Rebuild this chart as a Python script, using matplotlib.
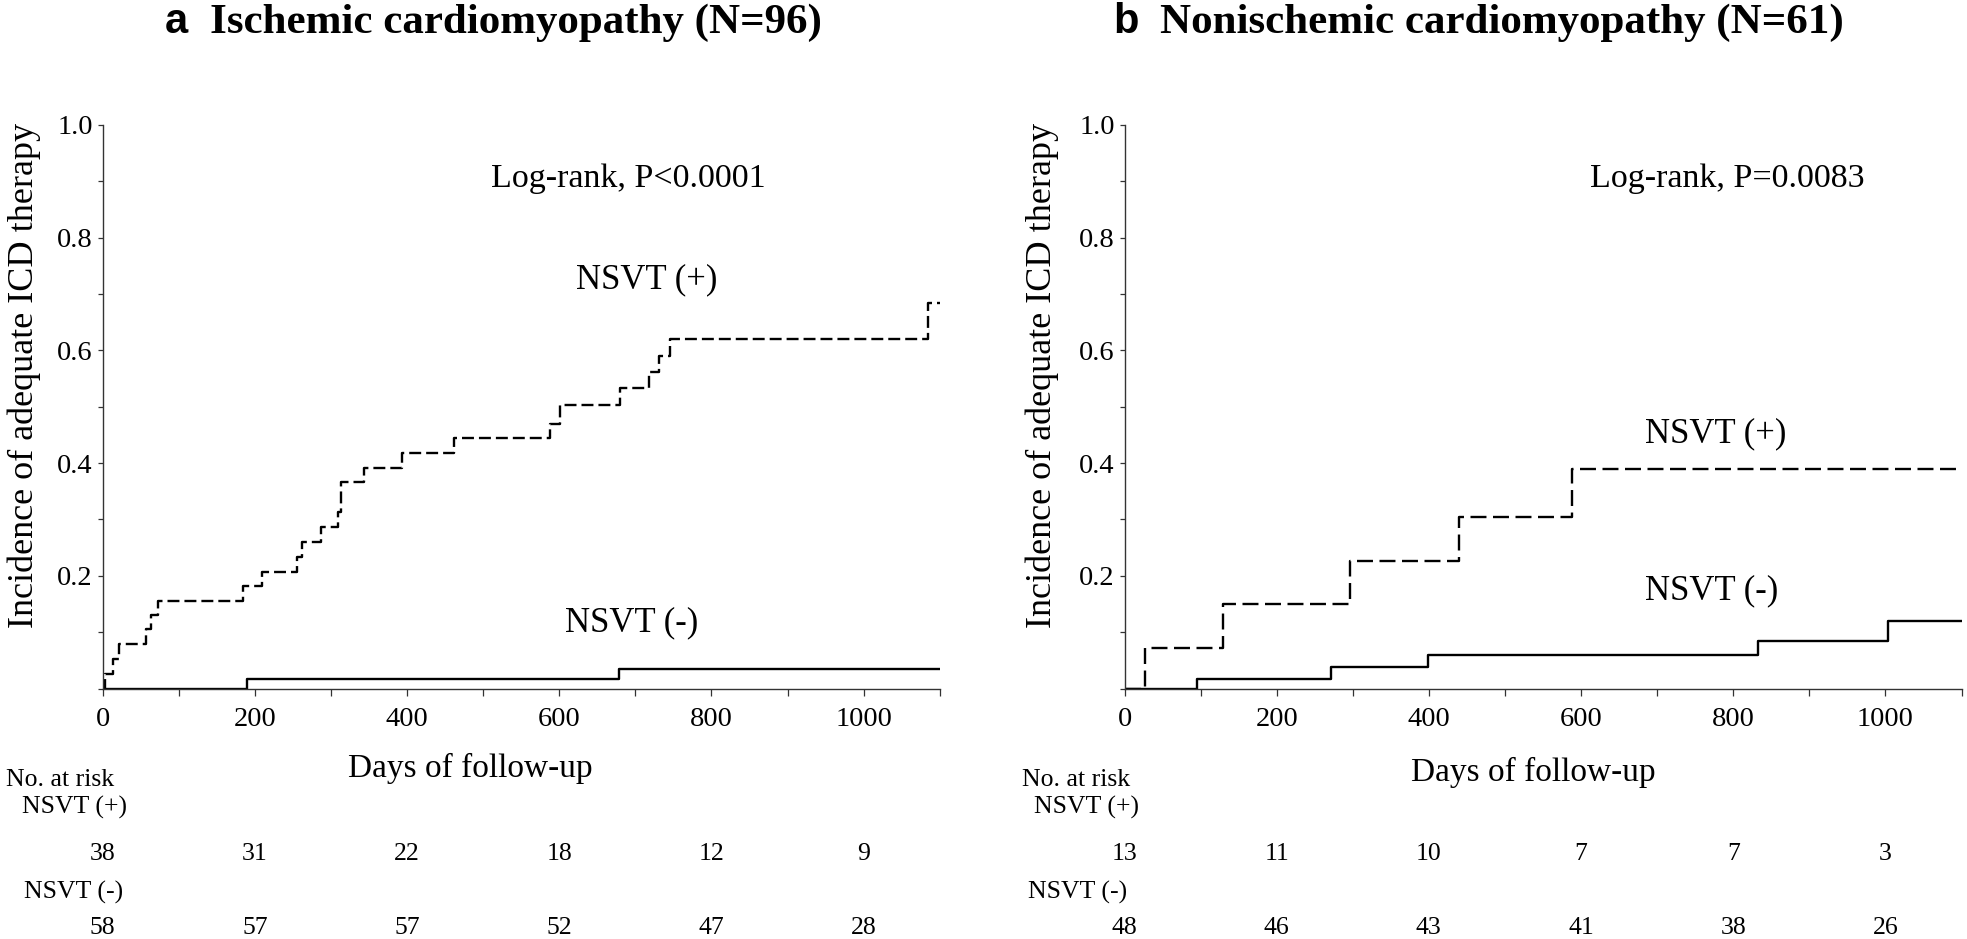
import matplotlib
matplotlib.use('Agg')
from matplotlib import pyplot as plt
from matplotlib import transforms
from matplotlib.ticker import MultipleLocator

# ---- data ----
days_risk = [0, 200, 400, 600, 800, 1000]

# a: ischemic
isch_pos_t = [0, 3, 13, 22, 57, 63, 73, 185, 210, 256, 262, 287, 309, 313, 343,
              394, 462, 588, 601, 680, 718, 731, 746, 1085, 1100]
isch_pos_v = [0, 0.026, 0.053, 0.079, 0.105, 0.13, 0.156, 0.182, 0.207, 0.234,
              0.26, 0.287, 0.314, 0.366, 0.392, 0.418, 0.444, 0.47, 0.503,
              0.533, 0.562, 0.59, 0.62, 0.684, 0.684]
isch_neg_t = [0, 189, 678, 1100]
isch_neg_v = [0, 0.016, 0.035, 0.035]
isch_risk_pos = [38, 31, 22, 18, 12, 9]
isch_risk_neg = [58, 57, 57, 52, 47, 28]

# b: nonischemic
non_pos_t = [0, 27, 129, 297, 439, 588, 1100]
non_pos_v = [0, 0.0725, 0.15, 0.227, 0.304, 0.39, 0.39]
non_neg_t = [0, 95, 271, 399, 833, 1004, 1100]
non_neg_v = [0, 0.016, 0.039, 0.059, 0.084, 0.12, 0.12]
non_risk_pos = [13, 11, 10, 7, 7, 3]
non_risk_neg = [48, 46, 43, 41, 38, 26]

W, H = 1967, 939
SERIF = 'Liberation Serif'
SANS = 'Liberation Sans'
plt.rcParams['font.family'] = [SERIF, 'DejaVu Serif']
plt.rcParams['lines.scale_dashes'] = False

fig = plt.figure(figsize=(W / 100, H / 100), dpi=100)


def px(x, y):
    # pixel position (top-left origin) -> figure fraction
    return x / W, 1 - y / H


def ftext(x, y, s, **kw):
    kw.setdefault('family', SERIF)
    fx, fy = px(x, y)
    fig.text(fx, fy, s, transform=fig.transFigure, **kw)


def panel(left, pos_t, pos_v, neg_t, neg_v, dash):
    axis = fig.add_axes([left / W, 1 - 688.5 / H, 837 / W, 563.5 / H])
    axis.step(pos_t, pos_v, where='post', color='black', lw=1.7,
              linestyle=(0, dash))
    axis.step(neg_t, neg_v, where='post', color='black', lw=1.7)
    axis.set_xlim(0, 1100)
    axis.set_ylim(0, 1.0)
    for side in ['top', 'right']:
        axis.spines[side].set_visible(False)
    for side in ['left', 'bottom']:
        axis.spines[side].set_linewidth(1.0)
        axis.spines[side].set_color('#333333')
    axis.xaxis.set_minor_locator(MultipleLocator(100))
    axis.set_xticks([0, 200, 400, 600, 800, 1000])
    axis.set_yticks([0.2, 0.4, 0.6, 0.8, 1.0])
    axis.set_yticklabels(['0.2', '0.4', '0.6', '0.8', '1.0'])
    axis.yaxis.set_minor_locator(MultipleLocator(0.1))
    axis.tick_params(axis='x', which='both', direction='out', length=5,
                     width=0.9, color='#333333', labelsize=20.5, pad=8)
    axis.tick_params(axis='y', which='both', direction='out', length=3.6,
                     width=0.9, color='#333333', labelsize=20.5, pad=3.5)
    for lab in axis.get_xticklabels() + axis.get_yticklabels():
        lab.set_fontfamily(SERIF)
    axis.patch.set_alpha(0)
    return axis


def risk_table(axis, x_label_left, plus_left, minus_left, plus, minus):
    blend = transforms.blended_transform_factory(axis.transData, fig.transFigure)
    ftext(x_label_left, 786, 'No. at risk', fontsize=18.5, ha='left', va='baseline')
    ftext(plus_left, 814, 'NSVT (+)', fontsize=18.5, ha='left', va='baseline')
    ftext(minus_left, 899, 'NSVT (-)', fontsize=18.5, ha='left', va='baseline')
    for d, p, m in zip(days_risk, plus, minus):
        axis.text(d, 1 - 860 / H, str(p), transform=blend, fontsize=18.5,
                  family=SERIF, ha='center', va='baseline')
        axis.text(d, 1 - 934 / H, str(m), transform=blend, fontsize=18.5,
                  family=SERIF, ha='center', va='baseline')


ax_a = panel(102.7, isch_pos_t, isch_pos_v, isch_neg_t, isch_neg_v, (8.6, 3.6))
ax_b = panel(1124.5, non_pos_t, non_pos_v, non_neg_t, non_neg_v, (11.5, 4.7))

# titles
ftext(165, 33, 'a', family=SANS, fontweight='bold', fontsize=30, ha='left', va='baseline')
ftext(210, 33, 'Ischemic cardiomyopathy (N=96)', fontweight='bold', fontsize=31,
      ha='left', va='baseline')
ftext(1113, 33, 'b', family=SANS, fontweight='bold', fontsize=30, ha='left', va='baseline')
ftext(1160, 33, 'Nonischemic cardiomyopathy (N=61)', fontweight='bold', fontsize=31,
      ha='left', va='baseline')

# y labels
for bx in [33, 1051]:
    ftext(bx, 375, 'Incidence of adequate ICD therapy', fontsize=26, rotation=90,
          rotation_mode='anchor', ha='center', va='baseline')

# x labels
ftext(470, 777, 'Days of follow-up', fontsize=24, ha='center', va='baseline')
ftext(1533, 781, 'Days of follow-up', fontsize=24, ha='center', va='baseline')

# annotations
ftext(628, 187, 'Log-rank, P<0.0001', fontsize=24.5, ha='center', va='baseline')
ftext(1727, 187, 'Log-rank, P=0.0083', fontsize=24.5, ha='center', va='baseline')
ftext(647, 288, 'NSVT (+)', fontsize=25, ha='center', va='baseline')
ftext(632, 631, 'NSVT (-)', fontsize=25, ha='center', va='baseline')
ftext(1716, 442, 'NSVT (+)', fontsize=25, ha='center', va='baseline')
ftext(1712, 599, 'NSVT (-)', fontsize=25, ha='center', va='baseline')

risk_table(ax_a, 6, 22, 24, isch_risk_pos, isch_risk_neg)
risk_table(ax_b, 1022, 1034, 1028, non_risk_pos, non_risk_neg)

fig.savefig('out.png', dpi=100)
